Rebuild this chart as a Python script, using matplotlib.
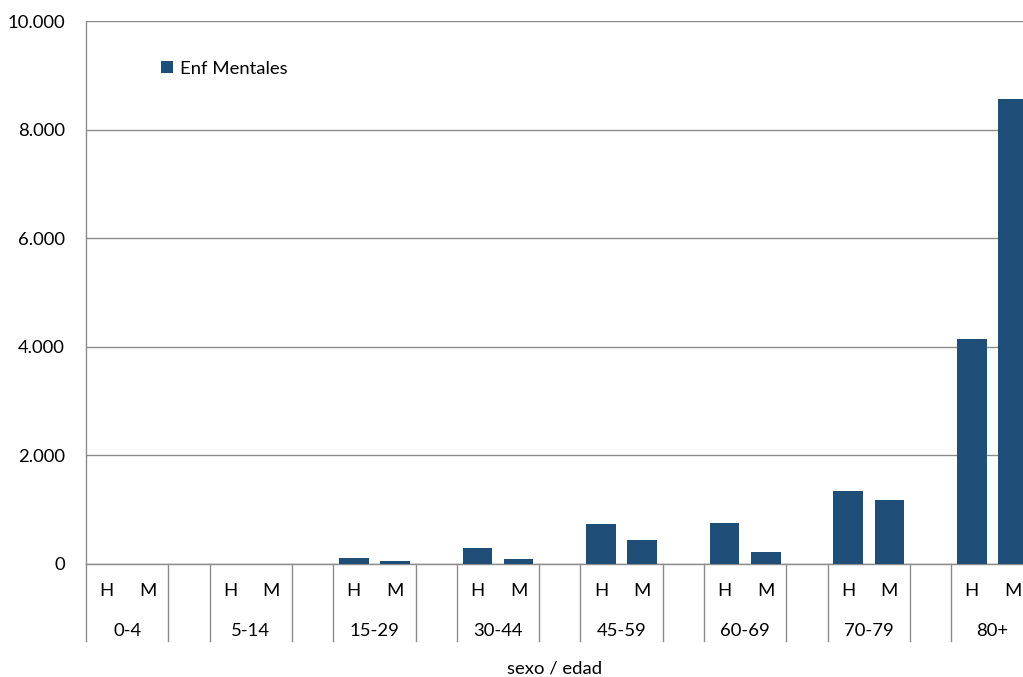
import matplotlib
matplotlib.use('Agg')
import matplotlib.pyplot as plt
import matplotlib.transforms as mtransforms
import numpy as np

# datos
grupos = ['0-4', '5-14', '15-29', '30-44', '45-59', '60-69', '70-79', '80+']
sexos = ['H', 'M']
valores_h = [0, 0, 116, 289, 737, 755, 1344, 4138]
valores_m = [0, 0, 50, 86, 436, 215, 1179, 8563]
yticks = [0, 2000, 4000, 6000, 8000, 10000]

plt.rcParams['font.family'] = ['Lato', 'DejaVu Sans']
color_barra = '#1f4e79'
gris = '#8c8c8c'
fs = 13.3

fig = plt.figure(figsize=(10.23, 6.77), dpi=100)
ax = fig.add_axes([86/1023, 1-564/677, 947.6/1023, 543/677])

n_slots = 3*len(grupos) - 1
x_h = np.arange(len(grupos))*3 + 0.5
x_m = x_h + 1
ax.bar(x_h, valores_h, width=0.72, color=color_barra, label='Enf Mentales', zorder=3)
ax.bar(x_m, valores_m, width=0.72, color=color_barra, zorder=3)

ax.set_xlim(0, n_slots)
ax.set_ylim(0, 10000)
ax.set_yticks(yticks)
ax.set_yticklabels(['{:,}'.format(v).replace(',', '.') for v in yticks], fontsize=fs)
ax.tick_params(axis='y', length=0, pad=15)
ax.set_xticks([])
ax.grid(axis='y', color=gris, linewidth=1, zorder=0)
for s in ['top', 'right']:
    ax.spines[s].set_visible(False)
for s in ['left', 'bottom']:
    ax.spines[s].set_color(gris)
    ax.spines[s].set_linewidth(1)

# eje de categorias en dos niveles
trans = mtransforms.blended_transform_factory(ax.transData, ax.transAxes)
baja = -(641-564)/543
bordes = [0]
for g in range(len(grupos)):
    bordes += [3*g + 2, 3*g + 3]
for b in bordes:
    ax.plot([b, b], [0, baja], color=gris, linewidth=1, transform=trans, clip_on=False)
for g, nombre in enumerate(grupos):
    ax.text(x_h[g], -(591-564)/543, sexos[0], transform=trans, ha='center', va='center', fontsize=fs)
    ax.text(x_m[g], -(591-564)/543, sexos[1], transform=trans, ha='center', va='center', fontsize=fs)
    ax.text(3*g + 1, -(631-564)/543, nombre, transform=trans, ha='center', va='center', fontsize=fs)

fig.text(555/1023, 1-669/677, 'sexo / edad', ha='center', va='center', fontsize=fs)

ax.legend(loc='upper left', bbox_to_anchor=(144/1023, 1-44/677), bbox_transform=fig.transFigure,
          frameon=False, fontsize=fs, handlelength=0.65, handleheight=0.65, handletextpad=0.4)

fig.savefig('out.png', dpi=100)
